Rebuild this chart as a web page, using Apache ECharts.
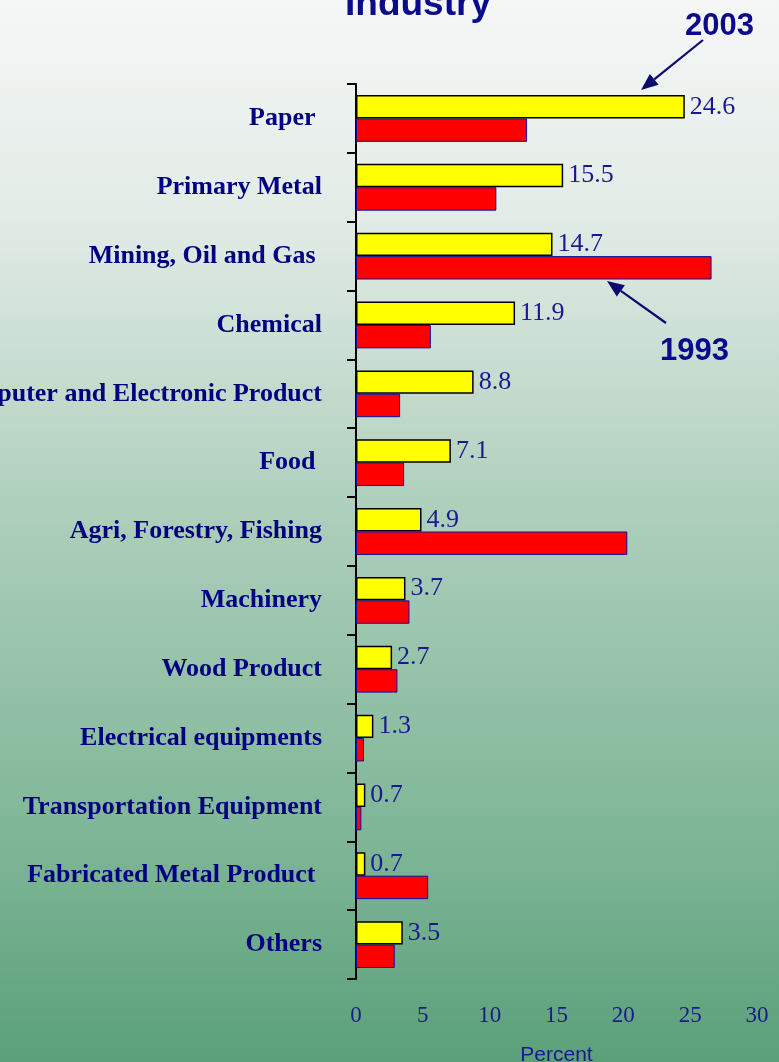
<!DOCTYPE html>
<html>
<head>
<meta charset="utf-8">
<title>Industry</title>
<script src="https://cdn.jsdelivr.net/npm/echarts@6/dist/echarts.min.js"></script>
<style>
  html, body { margin: 0; padding: 0; }
  #myChart { width: 779px; height: 1062px; }
</style>
</head>
<body>
<div id="myChart"></div>
<script>
// categories, top to bottom
var categories = ['Paper ', 'Primary Metal', 'Mining, Oil and Gas ', 'Chemical',
  'Computer and Electronic Product', 'Food ', 'Agri, Forestry, Fishing', 'Machinery',
  'Wood Product', 'Electrical equipments', 'Transportation Equipment',
  'Fabricated Metal Product ', 'Others'];
var share2003 = [24.6, 15.5, 14.7, 11.9, 8.8, 7.1, 4.9, 3.7, 2.7, 1.3, 0.7, 0.7, 3.5];
var share1993 = [12.8, 10.5, 26.6, 5.6, 3.3, 3.6, 20.3, 4.0, 3.1, 0.6, 0.4, 5.4, 2.9];
var xTicks = [0, 5, 10, 15, 20, 25, 30];

var navy = '#000080';

// arrow annotation: line + triangle head
function arrow(x1, y1, x2, y2) {
  var dx = x2 - x1, dy = y2 - y1;
  var len = Math.sqrt(dx * dx + dy * dy);
  var ux = dx / len, uy = dy / len;
  var hl = 17, hw = 7;
  var bx = x2 - ux * hl, by = y2 - uy * hl;
  return {
    type: 'group',
    children: [
      { type: 'line', shape: { x1: x1, y1: y1, x2: bx, y2: by },
        style: { stroke: '#0a0a70', lineWidth: 2.2 } },
      { type: 'polygon',
        shape: { points: [[x2, y2], [bx - uy * hw, by + ux * hw], [bx + uy * hw, by - ux * hw]] },
        style: { fill: '#0a0a70' } }
    ]
  };
}

var chart = echarts.init(document.getElementById('myChart'));
chart.setOption({
  backgroundColor: new echarts.graphic.LinearGradient(0, 0, 0, 1, [
    { offset: 0, color: '#f5f7f6' },
    { offset: 0.2, color: '#e3ece7' },
    { offset: 0.5, color: '#aacdb9' },
    { offset: 0.8, color: '#7db596' },
    { offset: 1, color: '#5aa079' }
  ]),
  animation: false,
  grid: { left: 356, right: 22, top: 84, bottom: 83, containLabel: false, outerBoundsMode: 'none' },
  xAxis: {
    type: 'value',
    min: xTicks[0],
    max: xTicks[xTicks.length - 1],
    interval: 5,
    axisLine: { show: false },
    axisTick: { show: false },
    splitLine: { show: false },
    axisLabel: {
      margin: 25,
      fontFamily: 'Liberation Serif, Times New Roman, serif',
      fontSize: 23,
      color: '#1a1a8c'
    },
    name: 'Percent',
    nameLocation: 'middle',
    nameGap: 66,
    nameTextStyle: {
      fontFamily: 'Liberation Sans, Arial, sans-serif',
      fontSize: 21,
      color: '#1a1a8c'
    }
  },
  yAxis: {
    type: 'category',
    inverse: true,
    data: categories,
    axisLine: { show: true, lineStyle: { color: '#000', width: 2 } },
    axisTick: { show: true, length: 9, lineStyle: { color: '#000', width: 2 } },
    axisLabel: {
      margin: 34,
      padding: [6, 0, 0, 0],
      fontFamily: 'Liberation Serif, Times New Roman, serif',
      fontWeight: 'bold',
      fontSize: 26,
      color: navy
    }
  },
  series: [
    {
      name: '2003',
      type: 'bar',
      data: share2003,
      barGap: '0%',
      barCategoryGap: '32%',
      itemStyle: { color: '#ffff00', borderColor: '#000', borderWidth: 1.5 },
      label: {
        show: true,
        position: 'right',
        distance: 5,
        fontFamily: 'Liberation Serif, Times New Roman, serif',
        fontSize: 26,
        color: '#1a1a8c'
      },
      z: 3
    },
    {
      name: '1993',
      type: 'bar',
      data: share1993,
      barGap: '0%',
      barCategoryGap: '32%',
      itemStyle: { color: '#ff0000', borderColor: '#1010a0', borderWidth: 1 },
      z: 2
    }
  ],
  graphic: [
    { type: 'text', left: 345, top: -14,
      style: { text: 'Industry', fontFamily: 'Liberation Sans, Arial, sans-serif',
        fontWeight: 'bold', fontSize: 37, fill: '#0a0a8c' } },
    { type: 'text', left: 685, top: 11,
      style: { text: '2003', fontFamily: 'Liberation Sans, Arial, sans-serif',
        fontWeight: 'bold', fontSize: 31, fill: '#0a0a8c' } },
    { type: 'text', left: 660, top: 336,
      style: { text: '1993', fontFamily: 'Liberation Sans, Arial, sans-serif',
        fontWeight: 'bold', fontSize: 31, fill: '#0a0a8c' } },
    arrow(703, 40, 641, 90),
    arrow(666, 323, 607, 281)
  ]
});
</script>
</body>
</html>
